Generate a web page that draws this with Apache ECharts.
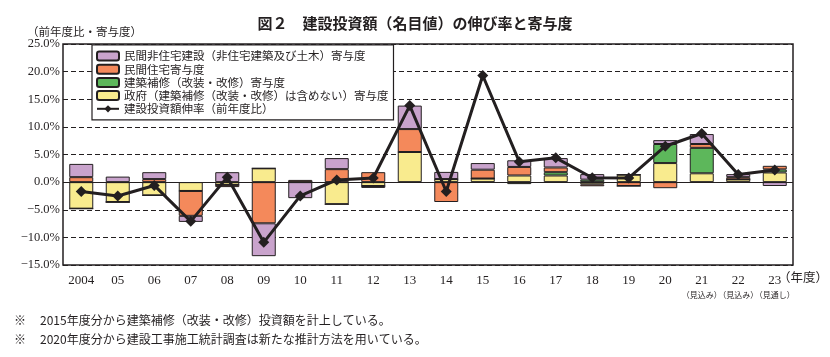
<!DOCTYPE html>
<html><head><meta charset="utf-8">
<script src="https://cdn.jsdelivr.net/npm/echarts@6/dist/echarts.min.js"></script>
<style>html,body{margin:0;padding:0;background:#fff}#c{width:830px;height:357px}</style>
</head><body><div id="c"></div>
<script>
const years = ['2004','05','06','07','08','09','10','11','12','13','14','15','16','17','18','19','20','21','22','23'];
const subLabels = ['','','','','','','','','','','','','','','','','','（見込み）','（見込み）','（見通し）'];
const govt      = [-4.8,-3.6,-2.4,-1.6,-0.5,2.5,0,-4.0,-0.7,5.45,0.55,0.65,1.2,1.2,-0.4,1.35,3.45,1.6,0.5,1.75];
const renovation= [0,0,0,0,0,0,0,0,0,0,0,0,-0.36,0.6,0.45,0,3.45,4.6,0,0.55];
const housing   = [0.9,0,0.55,-4.5,-0.4,-7.45,0.4,2.35,1.8,4.15,-3.6,1.6,1.55,0.85,-0.35,-0.7,-1.1,0.7,0.4,0.65];
const nonRes    = [2.4,1.0,1.25,-1.1,1.8,-5.95,-2.9,2.0,-0.35,4.25,1.3,1.2,1.2,1.7,1.0,0,0.7,1.8,0.55,-0.7];
const growth    = [-1.7,-2.5,-0.6,-7.1,0.9,-10.9,-2.5,0.4,0.75,13.85,-1.7,19.3,3.7,4.4,0.8,0.75,6.5,8.8,1.4,2.2];
const yTicks = {min:-15, max:25, interval:5};

const names = ['民間非住宅建設（非住宅建築及び土木）寄与度','民間住宅寄与度','建築補修（改装・改修）寄与度','政府（建築補修（改装・改修）は含めない）寄与度','建設投資額伸率（前年度比）'];
const ink = '#231f20';
const jp = '"Noto Sans CJK JP", sans-serif';
const serif = '"Liberation Serif", serif';

function bar(name, data, color){
  return {name, type:'bar', stack:'s', data, barWidth:24,
    itemStyle:{color, borderColor:ink, borderWidth:1}, emphasis:{disabled:true}};
}
const chart = echarts.init(document.getElementById('c'), null, {renderer:'canvas'});
chart.setOption({
  animation:false,
  title:{text:'図２　建設投資額（名目値）の伸び率と寄与度', left:'center', top:11,
    textStyle:{fontFamily:jp, fontSize:15, fontWeight:'bold', color:ink}},
  grid:{left:63, right:37, top:44, bottom:92, show:true, borderColor:ink, borderWidth:1.5, backgroundColor:'transparent'},
  legend:{data:names, orient:'vertical', left:92, top:45, itemWidth:22, itemHeight:9, itemGap:1.2,
    padding:[5,5,5,4], backgroundColor:'#fff', borderColor:ink, borderWidth:1.2,
    textStyle:{fontFamily:jp, fontSize:11.5, color:ink, lineHeight:12}, selectedMode:false},
  xAxis:{type:'category', data:years, axisLine:{show:false, onZero:false}, axisTick:{show:false},
    axisLabel:{margin:9, interval:0, color:ink,
      formatter:(v,i)=> subLabels[i] ? '{a|'+v+'}\n{s|'+subLabels[i]+'}' : '{a|'+v+'}',
      rich:{a:{fontFamily:serif, fontSize:13, color:ink, lineHeight:14},
            s:{fontFamily:jp, fontSize:8, color:ink, lineHeight:14}}}},
  yAxis:{type:'value', min:yTicks.min, max:yTicks.max, interval:yTicks.interval,
    axisLine:{show:false}, axisTick:{show:false},
    axisLabel:{margin:3, fontFamily:serif, fontSize:12.5, color:ink,
      formatter:v=> (v<0?'−':'')+Math.abs(v).toFixed(1)+'%'},
    splitLine:{lineStyle:{color:ink, type:[5,3], width:1}}},
  graphic:[
    {type:'text', left:27, top:26, style:{text:'（前年度比・寄与度）', font:'11.5px '+jp, fill:ink}},
    {type:'text', left:778, top:271, style:{text:'（年度）', font:'12.5px '+jp, fill:ink}},
    {type:'text', left:14, top:314, style:{text:'※', font:'12px '+jp, fill:ink}},
    {type:'text', left:40, top:314, style:{text:'2015年度分から建築補修（改装・改修）投資額を計上している。', font:'12px '+jp, fill:ink}},
    {type:'text', left:14, top:333, style:{text:'※', font:'12px '+jp, fill:ink}},
    {type:'text', left:40, top:333, style:{text:'2020年度分から建設工事施工統計調査は新たな推計方法を用いている。', font:'12px '+jp, fill:ink}}
  ],
  series:[
    bar(names[3], govt, '#f9eb8e'),
    bar(names[2], renovation, '#5db75b'),
    bar(names[1], housing, '#f4895b'),
    bar(names[0], nonRes, '#c9a3cc'),
    {name:names[4], type:'line', data:growth, symbol:'diamond', symbolSize:11,
      lineStyle:{color:ink, width:3}, itemStyle:{color:ink}, z:5,
      markLine:{silent:true, symbol:'none', label:{show:false}, lineStyle:{color:ink, type:'solid', width:1.2},
        data:[{yAxis:0}]}}
  ]
});
</script></body></html>
